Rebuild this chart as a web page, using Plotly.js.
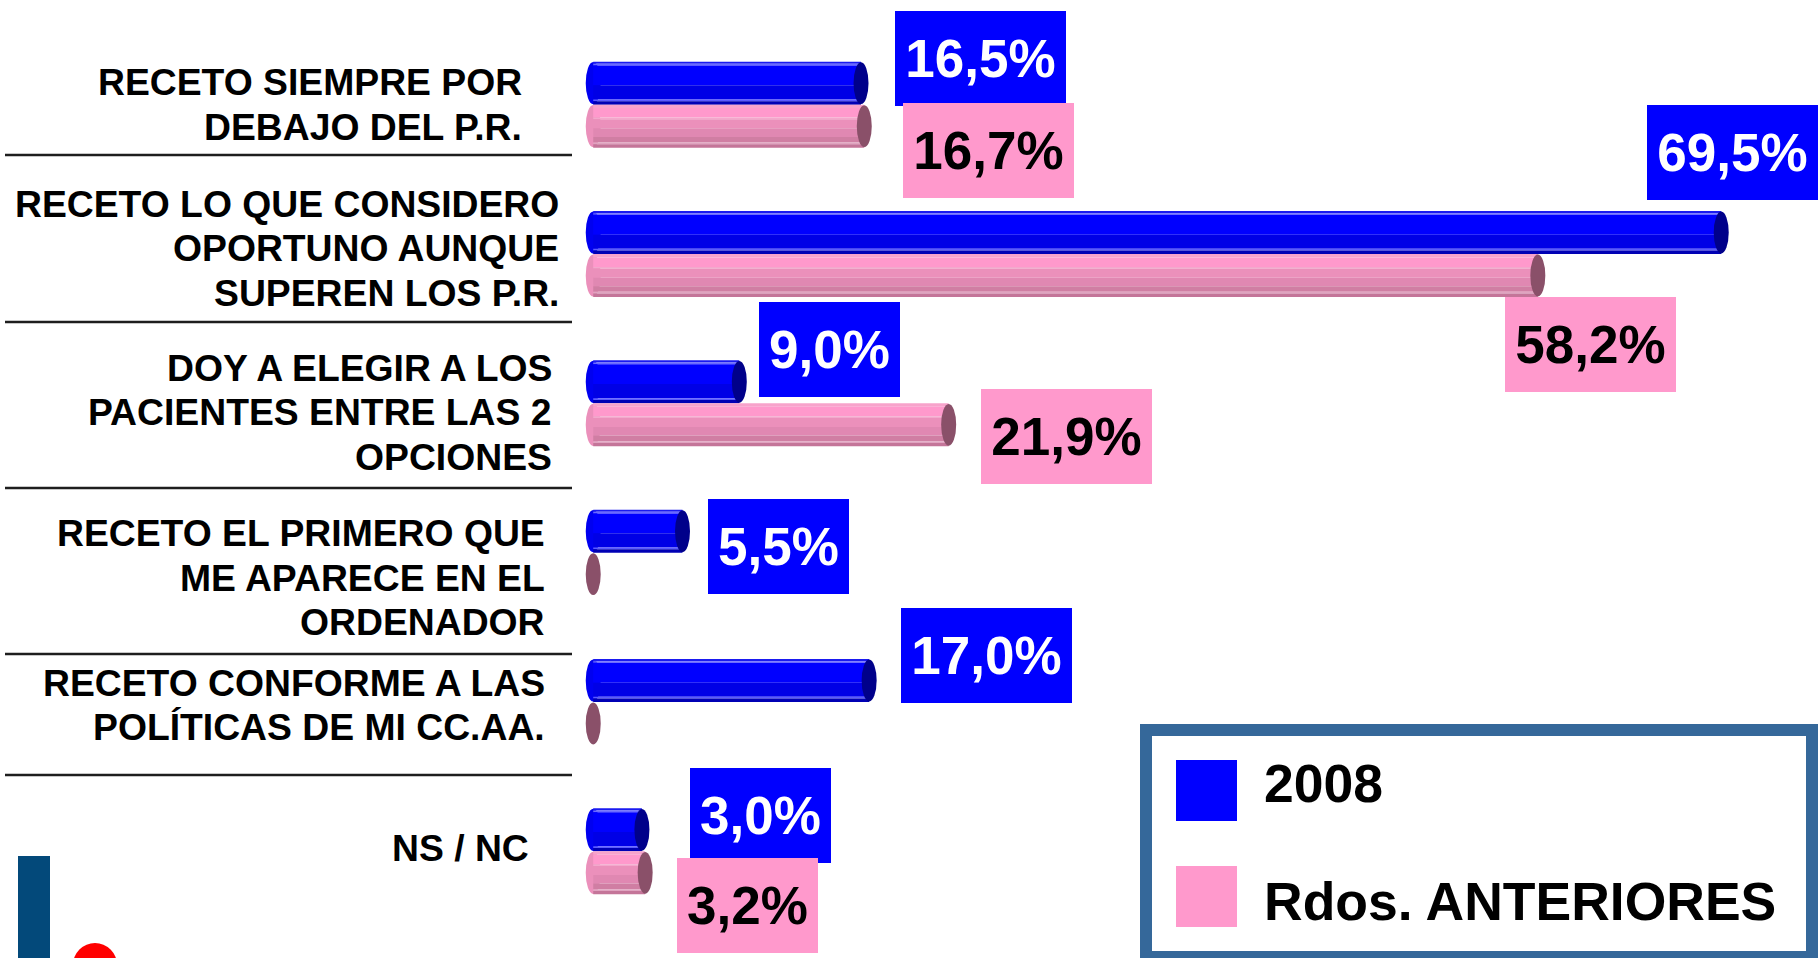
<!DOCTYPE html>
<html>
<head>
<meta charset="utf-8">
<script src="https://cdn.plot.ly/plotly-3.0.1.min.js"></script>
<style>
  html, body { margin: 0; padding: 0; background: #ffffff; }
  #chart { width: 1819px; height: 958px; }
</style>
</head>
<body>
<div id="chart"></div>
<script>
// ---- data ----
const categories = [
  "RECETO SIEMPRE POR<br>DEBAJO DEL P.R.",
  "RECETO LO QUE CONSIDERO<br>OPORTUNO AUNQUE<br>SUPEREN LOS P.R.",
  "DOY A ELEGIR A LOS<br>PACIENTES ENTRE LAS 2<br>OPCIONES",
  "RECETO EL PRIMERO QUE<br>ME APARECE EN EL<br>ORDENADOR",
  "RECETO CONFORME A LAS<br>POLÍTICAS DE MI CC.AA.",
  "NS / NC"
];
const seriesNames = ["2008", "Rdos. ANTERIORES"];
const values2008 = [16.5, 69.5, 9.0, 5.5, 17.0, 3.0];
const valuesPrev = [16.7, 58.2, 21.9, null, null, 3.2];

// ---- page geometry ----
const W = 1819, H = 958;
const ZERO_PX = 593;                       // pixel column of the 0 % baseline
const PX_PER_UNIT = 16.23;                 // horizontal pixels per percentage point
const XMIN = -1;                           // a little room left of 0 for the rounded ends
const M = { l: Math.round(ZERO_PX + XMIN * PX_PER_UNIT), r: 10, t: 30, b: 32 };
const PW = W - M.l - M.r, PH = H - M.t - M.b;
const XMAX = XMIN + PW / PX_PER_UNIT;
const CAT_PX = PH / categories.length;     // vertical pixels per category
const BAR_T = 43 / CAT_PX;                 // cylinder thickness in category units
const CAP_HALF = 7.5 / PX_PER_UNIT;        // half width of the elliptical end cap

const px2x = px => (px - M.l) / PW;
const px2y = py => (H - M.b - py) / PH;

const FONT = "Liberation Sans, Arial, Helvetica, sans-serif";
const yIdx = categories.map((_, i) => i);

// cylinder shading: [from, to] as fractions of thickness (top → bottom), colour
const blueStripes = [
  [0.00, 0.05, "#1a1af0"], [0.05, 0.09, "#6a6aff"], [0.09, 0.55, "#0000ff"],
  [0.55, 0.88, "#0000e6"], [0.88, 0.92, "#5a5aff"], [0.92, 1.00, "#0000b4"]
];
const pinkStripes = [
  [0.00, 0.08, "#f7a3cb"], [0.08, 0.30, "#ff99cc"], [0.30, 0.34, "#f3a8cc"],
  [0.34, 0.55, "#eb90bb"], [0.55, 0.75, "#e088b2"], [0.75, 0.88, "#d07ea3"],
  [0.88, 0.92, "#e0a3c0"], [0.92, 1.00, "#c47599"]
];
const series = [
  { name: seriesNames[0], vals: values2008, stripes: blueStripes, top: -BAR_T,
    face: "#0000f0", cap: "#00008a", box: "#0000ff", text: "#ffffff" },
  { name: seriesNames[1], vals: valuesPrev, stripes: pinkStripes, top: 0,
    face: "#eb90bb", cap: "#8a5069", box: "#ff99cc", text: "#000000" }
];

// ---- bar traces (one per shading band) ----
const traces = [];
series.forEach(s => {
  s.stripes.forEach(([f0, f1, col]) => {
    traces.push({
      type: "bar", orientation: "h",
      x: s.vals.map(v => v === null ? 0 : v), y: yIdx,
      offset: s.top + f0 * BAR_T, width: (f1 - f0) * BAR_T,
      marker: { color: col, line: { width: 0 } },
      name: s.name, showlegend: false, hoverinfo: "skip"
    });
  });
});

// ---- shapes: cylinder ends ----
const shapes = [];
series.forEach(s => {
  s.vals.forEach((v, i) => {
    const val = v === null ? 0 : v;
    const y0 = i + s.top, y1 = i + s.top + BAR_T;
    // rounded start of the cylinder
    if (v !== null) {
      shapes.push({ type: "circle", xref: "x", yref: "y", layer: "below",
        x0: -CAP_HALF, x1: CAP_HALF, y0: y0 + 0.003, y1: y1 - 0.003,
        fillcolor: s.face, line: { width: 0 } });
    }
    // end cap
    shapes.push({ type: "circle", xref: "x", yref: "y", layer: "above",
      x0: val - CAP_HALF, x1: val + CAP_HALF, y0: y0 + 0.004, y1: y1 - 0.004,
      fillcolor: s.cap, line: { width: 0 } });
  });
});

// separators under the category labels (pixel rows)
const separatorRows = [155, 322, 488, 654, 775];
separatorRows.forEach(py => {
  shapes.push({ type: "line", xref: "paper", yref: "paper",
    x0: px2x(5), x1: px2x(572), y0: px2y(py), y1: px2y(py),
    line: { color: "#1e1e1e", width: 2.5 } });
});

// legend frame and swatches
shapes.push({ type: "rect", xref: "paper", yref: "paper",
  x0: px2x(1146), x1: px2x(1812), y0: px2y(730), y1: px2y(957),
  fillcolor: "#ffffff", line: { color: "#35689a", width: 12 } });
shapes.push({ type: "rect", xref: "paper", yref: "paper",
  x0: px2x(1176), x1: px2x(1237), y0: px2y(760), y1: px2y(821),
  fillcolor: series[0].box, line: { width: 0 } });
shapes.push({ type: "rect", xref: "paper", yref: "paper",
  x0: px2x(1176), x1: px2x(1237), y0: px2y(866), y1: px2y(927),
  fillcolor: series[1].box, line: { width: 0 } });

// corner decoration
shapes.push({ type: "rect", xref: "paper", yref: "paper",
  x0: px2x(18), x1: px2x(50), y0: px2y(856), y1: px2y(962),
  fillcolor: "#03497a", line: { width: 0 } });
shapes.push({ type: "circle", xref: "paper", yref: "paper",
  x0: px2x(73), x1: px2x(117), y0: px2y(943), y1: px2y(987),
  fillcolor: "#ff0000", line: { width: 0 } });

// ---- annotations ----
const annotations = [];

// category labels, one annotation per line
const labelRight = [524, 561, 554, 547, 547, 531];   // right edge of each label block, px
const labelShift = [0, -6, 9, 25, 3, -3];            // block centre, px below the group centre
const LINE_PX = 44.5;
categories.forEach((c, i) => {
  const lines = c.split("<br>");
  lines.forEach((ln, k) => {
    const off = labelShift[i] + (k - (lines.length - 1) / 2) * LINE_PX;
    annotations.push({
      xref: "paper", yref: "y", x: px2x(labelRight[i]), y: i, xanchor: "right", yanchor: "middle",
      yshift: -off, showarrow: false, text: ln,
      font: { family: FONT, size: 37.3, color: "#000000", weight: 700 }
    });
  });
});

// value boxes: [dx from cap centre, dy of box top from group centre] in px
const boxNudge = [
  [[34, -94], [-74, -149], [20, -101], [25, -54], [32, -94], [48, -83]],
  [[39, -2], [-33, 43], [32, -14], null, null, [32, 7]]
];
series.forEach((s, si) => {
  s.vals.forEach((v, i) => {
    if (v === null) return;
    const txt = v.toFixed(1).replace(".", ",") + "%";
    const [dx, dy] = boxNudge[si][i];
    annotations.push({
      xref: "x", yref: "y", x: v, y: i, xanchor: "left", yanchor: "top",
      xshift: dx, yshift: -dy, showarrow: false, text: txt,
      width: txt.length >= 5 ? 171 : 141, height: 95,
      bgcolor: s.box, borderpad: 0, borderwidth: 0, align: "center", valign: "middle",
      font: { family: FONT, size: 53, color: s.text, weight: 700 }
    });
  });
});

// legend labels
[[seriesNames[0], 783], [seriesNames[1], 901.5]].forEach(([t, py]) => {
  annotations.push({
    xref: "paper", yref: "paper", x: px2x(1262), y: px2y(py),
    xanchor: "left", yanchor: "middle", showarrow: false, text: t,
    font: { family: FONT, size: 53.5, color: "#000000", weight: 700 }
  });
});

const layout = {
  width: W, height: H,
  margin: M,
  paper_bgcolor: "#ffffff", plot_bgcolor: "rgba(0,0,0,0)",
  barmode: "overlay",
  showlegend: false,
  xaxis: { range: [XMIN, XMAX], visible: false, fixedrange: true },
  yaxis: { range: [categories.length - 0.5, -0.5], visible: false, fixedrange: true },
  shapes: shapes,
  annotations: annotations,
  font: { family: FONT }
};

Plotly.newPlot("chart", traces, layout, { staticPlot: true, displayModeBar: false });
</script>
</body>
</html>
